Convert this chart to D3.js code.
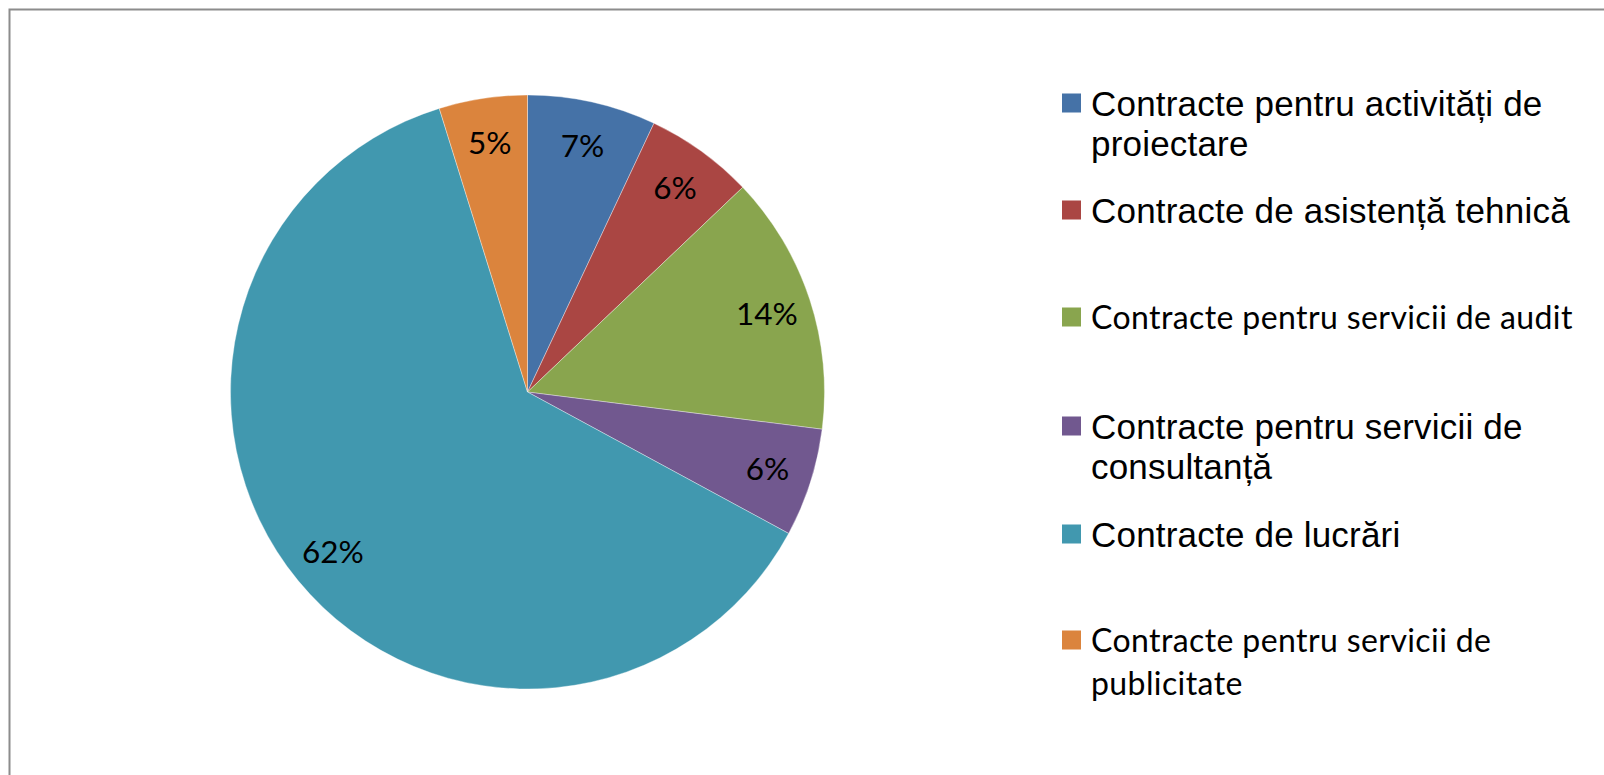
<!DOCTYPE html>
<html>
<head>
<meta charset="utf-8">
<script src="https://cdn.jsdelivr.net/npm/d3@7/dist/d3.min.js"></script>
<style>
html,body{margin:0;padding:0;background:#fff;}
svg{display:block;}
</style>
</head>
<body>
<svg id="chart" width="1604" height="775"></svg>
<script>
const categories = [
  "Contracte pentru activități de proiectare",
  "Contracte de asistență tehnică",
  "Contracte pentru servicii de audit",
  "Contracte pentru servicii de consultanță",
  "Contracte de lucrări",
  "Contracte pentru servicii de publicitate"
];
const values = [7.0, 5.9, 14.1, 5.9, 62.3, 4.8];
const percentLabels = ["7%", "6%", "14%", "6%", "62%", "5%"];
const colors = ["#4572A7", "#AA4643", "#89A54E", "#71588F", "#4198AF", "#DB843D"];
// legend line breaks and fonts (as in the original)
const legendLines = [
  ["Contracte pentru activități de", "proiectare"],
  ["Contracte de asistență tehnică"],
  ["Contracte pentru servicii de audit"],
  ["Contracte pentru servicii de", "consultanță"],
  ["Contracte de lucrări"],
  ["Contracte pentru servicii de", "publicitate"]
];
const legendFonts = ["arial", "arial", "calibri", "arial", "arial", "calibri"];

const svg = d3.select("#chart");

// frame
svg.append("path")
  .attr("d", "M9.5,775 L9.5,9.5 L1604,9.5")
  .attr("fill", "none")
  .attr("stroke", "#8c8c8c")
  .attr("stroke-width", 2);

const cx = 527.5, cy = 392, R = 297;
const g = svg.append("g").attr("transform", `translate(${cx},${cy})`);

const pie = d3.pie().value(d => d).sort(null);
const arcs = pie(values);
const arc = d3.arc().innerRadius(0).outerRadius(R);
const labelArc = d3.arc().innerRadius(252).outerRadius(252);

g.selectAll("path.slice")
  .data(arcs)
  .join("path")
  .attr("class", "slice")
  .attr("d", arc)
  .attr("fill", (d, i) => colors[i])
  .attr("stroke", "#ffffff")
  .attr("stroke-width", 0.6)
  .attr("stroke-opacity", 0.6);

g.selectAll("text.lbl")
  .data(arcs)
  .join("text")
  .attr("class", "lbl")
  .attr("transform", d => `translate(${labelArc.centroid(d)})`)
  .attr("text-anchor", "middle")
  .attr("dy", "0.36em")
  .attr("font-family", "Lato, 'Open Sans', sans-serif")
  .attr("font-size", 31.5)
  .attr("fill", "#000")
  .text((d, i) => percentLabels[i]);

// legend
const legendY = [103, 210, 317, 426, 534, 640];
const lg = svg.append("g");
categories.forEach((c, i) => {
  const item = lg.append("g").attr("transform", `translate(1062,${legendY[i]})`);
  item.append("rect")
    .attr("x", 0).attr("y", -9.5)
    .attr("width", 19).attr("height", 19)
    .attr("fill", colors[i]);
  const isCal = legendFonts[i] === "calibri";
  const t = item.append("text")
    .attr("x", 29)
    .attr("y", isCal ? 11.5 : 12.5)
    .attr("font-family", isCal ? "Lato, sans-serif" : "'Liberation Sans', Arial, sans-serif")
    .attr("font-size", isCal ? 32 : 35)
    .attr("letter-spacing", isCal ? 0.4 : 0.2)
    .attr("fill", "#000");
  legendLines[i].forEach((ln, j) => {
    t.append("tspan")
      .attr("x", 29)
      .attr("dy", j === 0 ? 0 : (isCal ? 43 : 40))
      .text(ln);
  });
});
</script>
</body>
</html>
